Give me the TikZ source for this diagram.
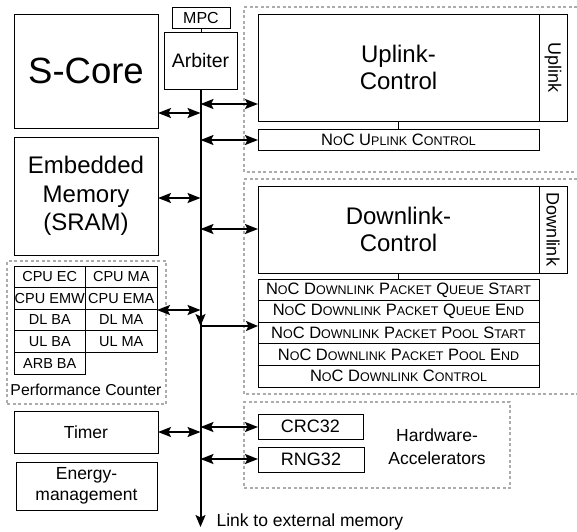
\documentclass[tikz,border=0pt]{standalone}
\usepackage{fontspec}
\setmainfont{Liberation Sans}
\usetikzlibrary{arrows.meta}
\newcommand\fsz[2]{\fontsize{#1}{#2}\selectfont}
\newcommand\smc[1]{{\fontsize{12.5}{14}\selectfont #1}}
\begin{document}
\begin{tikzpicture}[x=1pt,y=-1pt,
  box/.style={draw,line width=0.9pt,inner sep=0pt,outer sep=0pt,align=center,anchor=north west},
  group/.style={draw=gray!65,line width=1.2pt,dash pattern=on 3pt off 2.5pt},
  bus/.style={line width=2pt},
  biarrow/.style={line width=2pt,{Stealth[length=13pt,width=10pt,inset=2.5pt]}-{Stealth[length=13pt,width=10pt,inset=2.5pt]}},
  toarrow/.style={line width=2pt,-{Stealth[length=12pt,width=10pt,inset=2.5pt]}},
  reg/.style={box,minimum width=281,minimum height=21.6,font=\fsz{16.5}{18}}]
\useasboundingbox (0,0) rectangle (577,531);

% left column
\node[box,minimum width=144,minimum height=114,font=\fsz{36.5}{40}] (score) at (14,14) {S-Core};
\node[box,minimum width=144,minimum height=118,font=\fsz{24}{28.5}] (emem) at (14,137) {Embedded\\Memory\\(SRAM)};
\node[box,group,minimum width=159,minimum height=143] (perf) at (7,261) {};
\foreach \lbl [count=\i from 0] in {CPU EC,CPU MA,CPU EMW,CPU EMA,DL BA,DL MA,UL BA,UL MA,ARB BA}{
  \pgfmathtruncatemacro\col{mod(\i,2)}
  \pgfmathtruncatemacro\row{int(\i/2)}
  \node[box,minimum width=71.5,minimum height=21.6,font=\fsz{14.5}{16}] (pc\i) at (14+71.5*\col,266+21.6*\row) {\lbl};
}
\node[anchor=base,font=\fsz{15.8}{18}] (perflbl) at (86,395) {Performance Counter};
\node[box,minimum width=144,minimum height=42,font=\fsz{17.5}{20}] (timer) at (14,411) {Timer};
\node[box,minimum width=141,minimum height=48,font=\fsz{17.5}{21.5}] (energy) at (16,462) {Energy-\\management};

% arbiter and bus
\node[box,minimum width=58,minimum height=21,font=\fsz{16}{18}] (mpc) at (172,7) {MPC};
\node[box,minimum width=73,minimum height=57,font=\fsz{19.5}{22}] (arbiter) at (164,32) {Arbiter};
\draw[line width=0.9pt] (mpc.south) -- (mpc.south |- arbiter.north);
\coordinate (busend) at (arbiter.south |- 0,527);
\draw[toarrow] (arbiter.south) -- (busend);
\node[anchor=base west,font=\fsz{17.5}{20}] (extmem) at (213,526) {Link to external memory};

% uplink
\draw[group] (577,7) -| (244,172) -- (577,172);
\node[box,minimum width=281,minimum height=107,font=\fsz{24}{27}] (upctrl) at (258,14) {Uplink-\\Control};
\node[box,minimum width=28,minimum height=107] (upside) at (upctrl.north east) {};
\node[rotate=-90,font=\fsz{18}{20}] (uplbl) at (upside.center) {Uplink};
\node[reg] (upreg) at (258,129) {N\smc{O}C U\smc{PLINK} C\smc{ONTROL}};
\draw[line width=0.9pt] (upctrl.south) -- (upreg.north);

% downlink
\draw[group] (577,179) -| (244,394) -- (577,394);
\node[box,minimum width=281,minimum height=87,font=\fsz{24}{27}] (dnctrl) at (258,186) {Downlink-\\Control};
\node[box,minimum width=28,minimum height=87] (dnside) at (dnctrl.north east) {};
\node[rotate=-90,font=\fsz{18}{20}] (dnlbl) at (dnside.center) {Downlink};
\node[reg] (dl1) at (258,279) {N\smc{O}C D\smc{OWNLINK} P\smc{ACKET} Q\smc{UEUE} S\smc{TART}};
\node[reg] (dl2) at (dl1.south west) {N\smc{O}C D\smc{OWNLINK} P\smc{ACKET} Q\smc{UEUE} E\smc{ND}};
\node[reg] (dl3) at (dl2.south west) {N\smc{O}C D\smc{OWNLINK} P\smc{ACKET} P\smc{OOL} S\smc{TART}};
\node[reg] (dl4) at (dl3.south west) {N\smc{O}C D\smc{OWNLINK} P\smc{ACKET} P\smc{OOL} E\smc{ND}};
\node[reg] (dl5) at (dl4.south west) {N\smc{O}C D\smc{OWNLINK} C\smc{ONTROL}};
\draw[line width=0.9pt] (dnctrl.south) -- (dl1.north);

% accelerators
\node[box,group,minimum width=266,minimum height=86] (hwacc) at (244,402) {};
\node[box,minimum width=105,minimum height=25,font=\fsz{18}{20}] (crc) at (258,414) {CRC32};
\node[box,minimum width=106,minimum height=25,font=\fsz{18}{20}] (rng) at (258,447) {RNG32};
\node[align=center,font=\fsz{17.5}{23}] (hwlbl) at (437,447) {Hardware-\\Accelerators};

% bus taps
\coordinate (tapS) at (arbiter.south |- 0,113);
\coordinate (tapM) at (arbiter.south |- 0,198);
\coordinate (tapP) at (arbiter.south |- 0,310);
\coordinate (tapT) at (arbiter.south |- 0,432);
\coordinate (tapU) at (arbiter.south |- 0,104);
\coordinate (tapR) at (arbiter.south |- 0,140);
\coordinate (tapD) at (arbiter.south |- 0,229);
\coordinate (tapQ) at (arbiter.south |- 0,326);
\coordinate (tapC) at (arbiter.south |- 0,427);
\coordinate (tapN) at (arbiter.south |- 0,459);
\coordinate (tapQtop) at (arbiter.south |- 0,300);

\draw[biarrow] (score.east |- tapS) -- (tapS);
\draw[biarrow] (emem.east |- tapM) -- (tapM);
\draw[biarrow] (pc3.east |- tapP) -- (tapP);
\draw[biarrow] (timer.east |- tapT) -- (tapT);
\draw[biarrow] (tapU) -- (upctrl.west |- tapU);
\draw[biarrow] (tapR) -- (upreg.west |- tapR);
\draw[biarrow] (tapD) -- (dnctrl.west |- tapD);
\draw[toarrow] (tapQtop) -- (tapQ);
\draw[toarrow] (tapQ) -- (dl3.west |- tapQ);
\draw[biarrow] (tapC) -- (crc.west |- tapC);
\draw[biarrow] (tapN) -- (rng.west |- tapN);
\end{tikzpicture}
\end{document}
